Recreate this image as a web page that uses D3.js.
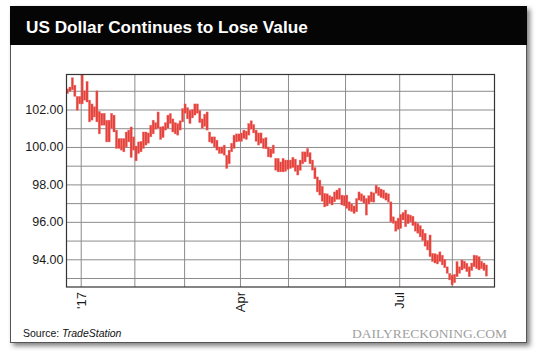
<!DOCTYPE html>
<html>
<head>
<meta charset="utf-8">
<script src="https://cdn.jsdelivr.net/npm/d3@7"></script>
<style>
  html, body { margin: 0; padding: 0; background: #fff; }
  svg { display: block; }
</style>
</head>
<body>
<div id="chart"></div>
<script>
// daily high / low of the dollar index, one bar per weekday (late Dec 2016 .. Aug 2017)
var highs = [
  103.10,103.20,103.70,103.30,102.70,102.70,103.85,103.00,103.50,102.50,
  102.30,102.15,103.00,101.90,101.80,101.80,101.43,101.43,101.80,101.70,
  100.90,100.45,100.45,100.45,100.80,100.90,101.07,100.54,100.05,100.27,
  100.30,100.80,100.80,100.75,101.16,101.43,101.30,101.87,101.07,101.10,
  101.30,101.70,101.79,101.50,101.30,101.25,101.40,102.05,102.30,102.10,
  101.96,102.00,102.30,102.30,101.95,101.50,101.75,101.87,100.80,100.54,
  100.54,100.36,100.00,100.00,100.10, 99.56, 99.83,100.20,100.63,100.70,
  100.70,100.75,100.90,100.85,101.25,101.40,101.20,100.90,100.75,100.75,
  100.45,100.50,100.00, 99.90,100.10, 99.39, 99.39, 99.20, 99.39, 99.30,
   99.30, 99.30, 99.45, 99.35, 99.03, 99.30, 99.74, 99.74, 99.92, 99.70,
   99.30, 98.90, 98.40, 98.23, 97.90, 97.52, 97.50, 97.40, 97.34, 97.60,
   97.70, 97.80, 97.43, 97.40, 97.43, 97.07, 96.95, 96.85, 97.25, 97.60,
   97.50, 97.40, 97.25, 97.40, 97.60, 97.55, 97.96, 97.85, 97.75, 97.70,
   97.55, 97.50, 97.07, 96.27, 96.05, 96.20, 96.40, 96.50, 96.63, 96.40,
   96.36, 96.30, 96.00, 95.92, 95.80, 95.60, 95.39, 95.00, 95.30, 94.32,
   94.30, 94.25, 94.40, 94.22, 94.00, 93.60, 93.25, 93.16, 93.20, 93.88,
   93.60, 93.96, 93.90, 93.79, 93.60, 93.80, 94.22, 94.20, 94.14, 93.90,
   93.80, 93.70
];
var lows = [
  102.85,102.98,103.05,102.70,101.96,102.30,102.30,102.50,102.40,101.34,
  101.43,101.60,101.34,100.70,101.16,101.16,100.27,100.27,101.00,100.80,
   99.92, 99.92, 99.83, 99.74,100.00,100.27, 99.44, 99.83, 99.26, 99.65,
   99.74, 99.92,100.10,100.20,100.54,100.70,100.95,101.00,100.40,100.50,
  100.90,101.00,101.25,100.80,100.70,100.63,100.90,101.34,101.80,101.50,
  101.25,101.55,101.70,101.80,101.30,101.00,101.10,100.90,100.27,100.20,
  100.00, 99.83, 99.65, 99.65, 99.56, 98.85, 99.10, 99.74, 99.92,100.27,
  100.30,100.30,100.45,100.40,100.63,100.95,100.75,100.30,100.10,100.20,
   99.92, 99.90, 99.47, 99.45, 99.65, 98.76, 98.67, 98.67, 98.67, 98.70,
   98.80, 98.85, 98.90, 98.70, 98.50, 98.75, 99.10, 99.20, 99.47, 99.10,
   98.76, 98.30, 97.60, 97.43, 97.10, 96.80, 96.85, 97.00, 96.90, 97.07,
   97.20, 97.20, 96.90, 96.85, 96.72, 96.60, 96.55, 96.45, 96.54, 97.16,
   97.10, 97.00, 96.36, 96.95, 97.07, 97.05, 97.52, 97.40, 97.30, 97.25,
   97.16, 97.05, 96.00, 95.92, 95.50, 95.60, 95.65, 96.10, 95.74, 95.90,
   96.00, 95.80, 95.50, 95.39, 95.20, 95.00, 94.70, 94.50, 94.14, 93.88,
   93.80, 93.75, 93.88, 93.70, 93.55, 93.25, 92.90, 92.63, 92.75, 93.07,
   93.25, 93.43, 93.50, 93.34, 93.07, 93.40, 93.60, 93.50, 93.43, 93.50,
   93.40, 93.10
];

// month boundaries, in bar-index units
var monthTicks = [5.4, 27.3, 47.6, 70.4, 90, 113.3, 135.4, 156.9];
var monthLabels = ["'17", '', '', 'Apr', '', '', 'Jul', ''];

var yLabelTicks = [94, 96, 98, 100, 102];
var yGridTicks = [93, 94, 95, 96, 97, 98, 99, 100, 101, 102, 103];

var titleText = 'US Dollar Continues to Lose Value';
var sourceLabel = 'Source: ';
var sourceName = 'TradeStation';
var brandText = 'DAILYRECKONING.COM';

var svgWidth = 540;
var svgHeight = 351;

var plot = {left: 66.5, top: 74.5, right: 494.5, bottom: 287};

var svg = d3.select('#chart')
  .append('svg')
  .attr('width', svgWidth)
  .attr('height', svgHeight)
  .style('font-family', 'Liberation Sans, Arial, Helvetica, sans-serif');

// card shadow
var defs = svg.append('defs');
var flt = defs.append('filter')
  .attr('id', 'shadow')
  .attr('x', '-5%').attr('y', '-5%')
  .attr('width', '115%').attr('height', '115%');
flt.append('feDropShadow')
  .attr('dx', 3).attr('dy', 3)
  .attr('stdDeviation', 2.5)
  .attr('flood-color', '#000')
  .attr('flood-opacity', 0.5);

svg.append('rect')
  .attr('x', 10.5).attr('y', 6.5)
  .attr('width', 516).attr('height', 336)
  .attr('fill', '#fff')
  .attr('stroke', '#555')
  .attr('stroke-width', 1)
  .attr('filter', 'url(#shadow)');

// title bar
svg.append('rect')
  .attr('x', 10).attr('y', 6)
  .attr('width', 517).attr('height', 39)
  .attr('fill', '#050505');

svg.append('text')
  .attr('x', 26).attr('y', 33)
  .attr('fill', '#fff')
  .style('font-size', '17.2px')
  .style('font-weight', 'bold')
  .text(titleText);

// scales
var x = d3.scaleLinear()
  .domain([-0.4, 174.3])
  .range([plot.left, plot.right]);

var y = d3.scaleLinear()
  .domain([92.52, 103.87])
  .range([plot.bottom, plot.top]);

// gridlines
svg.append('g')
  .attr('transform', 'translate(0,' + plot.bottom + ')')
  .call(d3.axisBottom(x).tickValues(monthTicks).tickSize(-(plot.bottom - plot.top)).tickFormat(''))
  .call(function(g) {
    g.select('.domain').remove();
    g.selectAll('line').attr('stroke', '#8c8c8c').attr('stroke-width', 1);
  });

svg.append('g')
  .attr('transform', 'translate(' + plot.left + ',0)')
  .call(d3.axisLeft(y).tickValues(yGridTicks).tickSize(-(plot.right - plot.left)).tickFormat(''))
  .call(function(g) {
    g.select('.domain').remove();
    g.selectAll('line').attr('stroke', '#8c8c8c').attr('stroke-width', 1);
  });

// y labels
svg.append('g')
  .attr('transform', 'translate(' + plot.left + ',0)')
  .call(d3.axisLeft(y).tickValues(yLabelTicks).tickSize(0).tickPadding(3).tickFormat(d3.format('.2f')))
  .call(function(g) {
    g.select('.domain').remove();
    g.selectAll('text')
      .attr('fill', '#1a1a1a')
      .style('font-size', '12.5px')
      .style('font-family', 'Liberation Sans, Arial, sans-serif');
  });

// x labels (rotated)
svg.append('g')
  .attr('transform', 'translate(0,' + plot.bottom + ')')
  .call(d3.axisBottom(x).tickValues(monthTicks).tickSize(0).tickFormat(function(d, i) { return monthLabels[i]; }))
  .call(function(g) {
    g.select('.domain').remove();
    g.selectAll('text')
      .attr('fill', '#1a1a1a')
      .attr('transform', 'rotate(-90)')
      .attr('x', -5)
      .attr('y', 0)
      .attr('dy', '0.35em')
      .style('text-anchor', 'end')
      .style('font-size', '13px')
      .style('font-family', 'Liberation Sans, Arial, sans-serif');
  });

// bars
var bars = highs.map(function(h, i) { return {i: i, high: h, low: lows[i]}; });

svg.append('g')
  .selectAll('rect')
  .data(bars)
  .enter()
  .append('rect')
  .attr('x', function(d) { return x(d.i) - 1.1; })
  .attr('width', 2.2)
  .attr('y', function(d) { return y(d.high); })
  .attr('height', function(d) { return Math.max(1, y(d.low) - y(d.high)); })
  .attr('fill', '#e5413b')
  .attr('stroke', 'rgba(236,110,105,0.55)')
  .attr('stroke-width', 0.6);

// plot frame
svg.append('rect')
  .attr('x', plot.left).attr('y', plot.top)
  .attr('width', plot.right - plot.left)
  .attr('height', plot.bottom - plot.top)
  .attr('fill', 'none')
  .attr('stroke', '#333')
  .attr('stroke-width', 1.2);

// footer
var src = svg.append('text')
  .attr('x', 23).attr('y', 337)
  .attr('fill', '#111')
  .style('font-size', '10.5px');
src.append('tspan').text(sourceLabel);
src.append('tspan').style('font-style', 'italic').text(sourceName);

svg.append('text')
  .attr('x', 352).attr('y', 338)
  .attr('fill', '#a0a0a0')
  .attr('textLength', 155)
  .attr('lengthAdjust', 'spacing')
  .style('font-family', 'Liberation Serif, Times New Roman, serif')
  .style('font-size', '13.5px')
  .text(brandText);
</script>
</body>
</html>
